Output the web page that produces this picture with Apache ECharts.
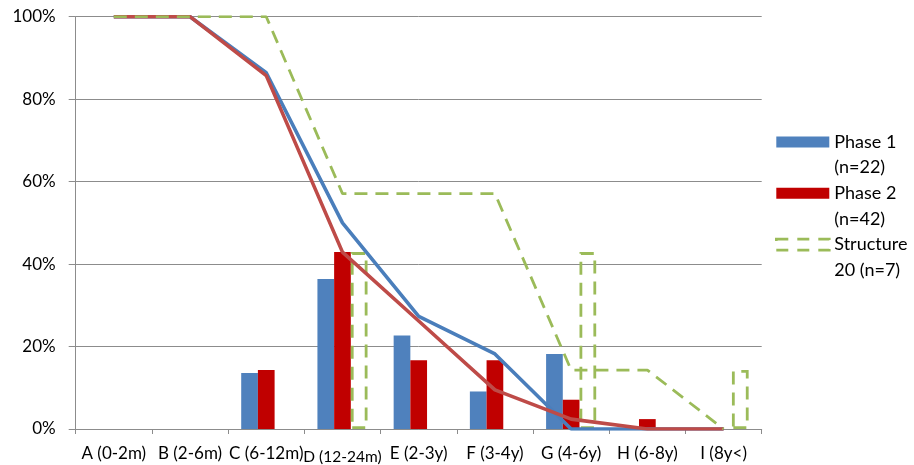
<!DOCTYPE html>
<html>
<head>
<meta charset="utf-8">
<script src="https://cdn.jsdelivr.net/npm/echarts@6/dist/echarts.min.js"></script>
<style>
  html, body { margin: 0; padding: 0; background: #ffffff; }
  #chart { width: 914px; height: 465px; }
</style>
</head>
<body>
<div id="chart"></div>
<script>
// Age classes at death
const categories = ['A (0-2m)', 'B (2-6m)', 'C (6-12m)', 'D (12-24m)', 'E (2-3y)', 'F (3-4y)', 'G (4-6y)', 'H (6-8y)', 'I (8y<)'];

// Share of individuals dying in each age class (%)
const phase1Share      = [0, 0, 13.6, 36.4, 22.7, 9.1, 18.2, 0, 0];
const phase2Share      = [0, 0, 14.3, 42.9, 16.7, 16.7, 7.1, 2.4, 0];
const structure20Share = [0, 0, 0, 42.9, 0, 0, 42.9, 0, 14.3];

// Survivorship (%) entering each age class
const phase1Survival      = [100, 100, 86.4, 50.0, 27.3, 18.2, 0, 0, 0];
const phase2Survival      = [100, 100, 85.7, 42.9, 26.2, 9.5, 2.4, 0, 0];
const structure20Survival = [100, 100, 100, 57.1, 57.1, 57.1, 14.3, 14.3, 0];

// Value axis ticks (%)
const yTicks = [0, 20, 40, 60, 80, 100];

// Group names and their two-line legend text
const groupNames = ['Phase 1 (n=22)', 'Phase 2 (n=42)', 'Structure 20 (n=7)'];
const legendText = [['Phase 1', '(n=22)'], ['Phase 2', '(n=42)'], ['Structure', '20 (n=7)']];

const FONT = 'Lato, "Open Sans", sans-serif';
const GRID_GRAY = '#8c8c8c';
const BLUE = '#4F81BD', RED_BAR = '#C00000', RED_LINE = '#BE4B48', GREEN = '#9BBB59';
const GREEN_DASH = [13, 8];

const noZero = arr => arr.map(v => (v === 0 ? null : v));

const chart = echarts.init(document.getElementById('chart'), null, { renderer: 'canvas' });

chart.setOption({
  animation: false,
  backgroundColor: '#ffffff',
  textStyle: { fontFamily: FONT, color: '#000' },
  grid: { left: 75.7, right: 152.3, top: 16.7, bottom: 35.7, containLabel: false },
  legend: {
    data: [
      { name: groupNames[0], icon: 'rect' },
      { name: groupNames[1], icon: 'rect' },
      {
        name: groupNames[2], icon: 'rect',
        itemStyle: { color: 'rgba(0,0,0,0)', borderColor: GREEN, borderWidth: 2.6, borderType: [12, 9] }
      }
    ],
    orient: 'vertical',
    left: 775,
    top: 103.5,
    padding: 0,
    itemWidth: 53,
    itemHeight: 11,
    itemGap: -25.65,
    selectedMode: false,
    textStyle: { fontFamily: FONT, fontSize: 18, lineHeight: 25.65, color: '#000' },
    formatter: name => {
      const i = groupNames.indexOf(name);
      return '\n' + legendText[i].join('\n');
    }
  },
  xAxis: {
    type: 'category',
    data: categories,
    boundaryGap: true,
    axisLine: { show: true, lineStyle: { color: GRID_GRAY, width: 1 } },
    axisTick: { show: true, length: 5, lineStyle: { color: GRID_GRAY } },
    axisLabel: {
      interval: 0,
      margin: 16,
      fontFamily: FONT,
      fontSize: 17,
      color: '#000',
      formatter: v => (v === 'D (12-24m)' ? '{d|' + v + '}' : v),
      rich: { d: { fontFamily: FONT, fontSize: 15.5, padding: [4, 0, 0, 0], color: '#000' } }
    },
    splitLine: { show: false }
  },
  yAxis: {
    type: 'value',
    min: yTicks[0],
    max: yTicks[yTicks.length - 1],
    interval: yTicks[1] - yTicks[0],
    axisLine: { show: true, lineStyle: { color: GRID_GRAY, width: 1 } },
    axisTick: { show: true, length: 7, lineStyle: { color: GRID_GRAY } },
    axisLabel: { margin: 20, fontFamily: FONT, fontSize: 17, color: '#000', formatter: v => v + '%' },
    splitLine: { show: true, lineStyle: { color: GRID_GRAY, width: 1 } }
  },
  series: [
    {
      name: groupNames[0], type: 'bar', barWidth: 16.7, barGap: '0%',
      data: noZero(phase1Share),
      itemStyle: { color: BLUE }
    },
    {
      name: groupNames[1], type: 'bar', barWidth: 16.7, barGap: '0%',
      data: noZero(phase2Share),
      itemStyle: { color: RED_BAR }
    },
    {
      name: groupNames[2], type: 'bar', barWidth: 16.7, barGap: '0%',
      data: noZero(structure20Share),
      itemStyle: { color: 'rgba(0,0,0,0)', borderColor: GREEN, borderWidth: 2.8, borderType: GREEN_DASH }
    },
    {
      name: 'Phase 1 survivorship', type: 'line', data: phase1Survival,
      symbol: 'none', z: 3,
      lineStyle: { color: '#4A7EBB', width: 3.6 }
    },
    {
      name: 'Phase 2 survivorship', type: 'line', data: phase2Survival,
      symbol: 'none', z: 3,
      lineStyle: { color: RED_LINE, width: 3.6 }
    },
    {
      name: 'Structure 20 survivorship', type: 'line', data: structure20Survival,
      symbol: 'none', z: 4,
      lineStyle: { color: GREEN, width: 2.8, type: GREEN_DASH }
    }
  ]
});
</script>
</body>
</html>
